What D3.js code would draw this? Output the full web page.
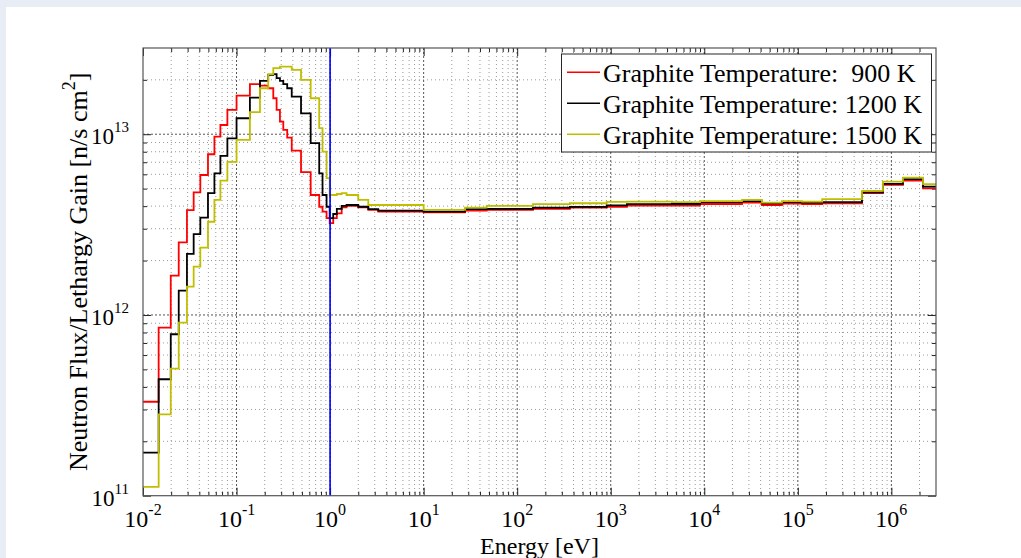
<!DOCTYPE html>
<html lang="en">
<head>
<meta charset="UTF-8" />
<title>Neutron Flux per Lethargy Gain</title>
<script src="https://d3js.org/d3.v7.min.js"></script>
<style>
  body { margin: 0; background: #e8edf5; overflow: hidden; }
  svg { display: block; }
  text { font-family: 'Liberation Serif', 'Times New Roman', serif; fill: #000; }
</style>
</head>
<body>
<div id="chart"></div>
<script>
  // group boundaries [eV], shared by the three runs
  const energyBounds = [
    0.01, 0.0147, 0.0198, 0.0241, 0.0295, 0.0348, 0.041, 0.0495, 0.058, 0.0672,
    0.0798, 0.1, 0.139, 0.178, 0.218, 0.247, 0.268, 0.291, 0.316, 0.348,
    0.389, 0.489, 0.62, 0.765, 0.83, 0.917, 0.99, 1.08, 1.18, 1.33,
    1.5, 2.0, 2.56, 3.27, 10, 27.7, 47.2, 147.5, 366, 906,
    1490, 4520, 9000, 25300, 41400, 67700, 1.11e5, 1.82e5, 4.85e5, 8.13e5,
    1.33e6, 2.18e6, 3e6
  ];

  // flux per lethargy gain in each group [n/s cm^2]
  const flux900 = [
    3.31e11, 8.5e11, 1.65e12, 2.52e12, 3.80e12, 4.77e12, 5.95e12, 7.75e12, 9.70e12, 1.125e13,
    1.363e13, 1.635e13, 1.891e13, 1.858e13, 1.797e13, 1.582e13, 1.363e13, 1.174e13, 1.056e13, 9.57e12,
    8.11e12, 6.17e12, 4.61e12, 3.97e12, 3.73e12, 3.43e12, 3.22e12, 3.43e12, 3.65e12, 3.94e12,
    4.01e12, 3.94e12, 3.81e12, 3.73e12, 3.70e12, 3.78e12, 3.81e12, 3.86e12, 3.93e12, 3.97e12,
    4.03e12, 4.03e12, 4.11e12, 4.18e12, 4.06e12, 4.13e12, 4.11e12, 4.15e12, 4.72e12, 5.24e12,
    5.54e12, 5.02e12
  ];
  const flux1200 = [
    1.73e11, 4.41e11, 7.82e11, 1.363e12, 2.18e12, 2.80e12, 3.46e12, 4.72e12, 6.08e12, 7.59e12,
    9.48e12, 1.226e13, 1.594e13, 1.972e13, 2.128e13, 2.148e13, 2.042e13, 1.972e13, 1.891e13, 1.797e13,
    1.614e13, 1.306e13, 8.92e12, 6.08e12, 4.61e12, 3.97e12, 3.43e12, 3.62e12, 3.86e12, 4.01e12,
    4.06e12, 3.97e12, 3.85e12, 3.78e12, 3.73e12, 3.85e12, 3.86e12, 3.93e12, 3.96e12, 4.04e12,
    4.10e12, 4.11e12, 4.21e12, 4.26e12, 4.15e12, 4.21e12, 4.18e12, 4.21e12, 4.77e12, 5.31e12,
    5.64e12, 5.13e12
  ];
  const flux1500 = [
    1.12e11, 2.82e11, 5.05e11, 9.06e11, 1.434e12, 1.85e12, 2.36e12, 3.28e12, 4.33e12, 5.54e12,
    7.03e12, 9.30e12, 1.324e13, 1.797e13, 2.148e13, 2.319e13, 2.319e13, 2.366e13, 2.366e13, 2.366e13,
    2.269e13, 1.997e13, 1.582e13, 1.08e13, 8.01e12, 5.71e12, 4.61e12, 4.61e12, 4.67e12, 4.72e12,
    4.61e12, 4.33e12, 4.06e12, 4.06e12, 3.81e12, 3.93e12, 4.01e12, 4.10e12, 4.15e12, 4.22e12,
    4.24e12, 4.21e12, 4.27e12, 4.33e12, 4.18e12, 4.27e12, 4.24e12, 4.37e12, 4.86e12, 5.47e12,
    5.75e12, 5.29e12
  ];

  const seriesNames = [
    "Graphite Temperature:  900 K",
    "Graphite Temperature: 1200 K",
    "Graphite Temperature: 1500 K"
  ];
  const seriesColors = ["#ff0000", "#000000", "#bfbf00"];

  const xMajorTicks = [1e-2, 1e-1, 1e0, 1e1, 1e2, 1e3, 1e4, 1e5, 1e6];
  const yMajorTicks = [1e11, 1e12, 1e13];
  const cutoffEnergy = 1; // blue marker line [eV]

  const W = 1021, H = 558;
  const plot = { left: 143, right: 936, top: 48, bottom: 495.7 };

  const x = d3.scaleLog().domain([1e-2, 3e6]).range([plot.left, plot.right]);
  const y = d3.scaleLog().domain([1e11, 3e13]).range([plot.bottom, plot.top]);

  // minor ticks 2..9 in every decade, inside the domain
  function minorTicks(scale) {
    const [a, b] = scale.domain();
    const out = [];
    for (let k = Math.floor(Math.log10(a)); k <= Math.ceil(Math.log10(b)); k++) {
      for (let m = 2; m <= 9; m++) {
        const v = m * Math.pow(10, k);
        if (v > a && v < b) out.push(v);
      }
    }
    return out;
  }
  const xMinor = minorTicks(x);
  const yMinor = minorTicks(y);

  const svg = d3.select("#chart").append("svg")
    .attr("width", W)
    .attr("height", H);

  svg.append("rect")
    .attr("x", 6).attr("y", 7)
    .attr("width", W - 6).attr("height", H - 7)
    .attr("fill", "#fff");

  // grid
  const grid = svg.append("g").attr("fill", "none");
  grid.selectAll(".xminor").data(xMinor).join("line")
    .attr("x1", d => x(d)).attr("x2", d => x(d))
    .attr("y1", plot.top).attr("y2", plot.bottom)
    .attr("stroke", "#999").attr("stroke-dasharray", "1,3");
  grid.selectAll(".yminor").data(yMinor).join("line")
    .attr("y1", d => y(d)).attr("y2", d => y(d))
    .attr("x1", plot.left).attr("x2", plot.right)
    .attr("stroke", "#999").attr("stroke-dasharray", "1,3");
  grid.selectAll(".xmajor").data(xMajorTicks.slice(1)).join("line")
    .attr("x1", d => x(d)).attr("x2", d => x(d))
    .attr("y1", plot.top).attr("y2", plot.bottom)
    .attr("stroke", "#555").attr("stroke-dasharray", "2,2");
  grid.selectAll(".ymajor").data(yMajorTicks.slice(1)).join("line")
    .attr("y1", d => y(d)).attr("y2", d => y(d))
    .attr("x1", plot.left).attr("x2", plot.right)
    .attr("stroke", "#555").attr("stroke-dasharray", "2,2");

  // inward ticks on all four sides
  function tickAxis(axisFn, scale, values, size, translate) {
    const g = svg.append("g")
      .attr("transform", translate)
      .call(axisFn(scale).tickValues(values).tickSize(size).tickFormat(""));
    g.select(".domain").remove();
    g.selectAll(".tick line").attr("stroke", "#222");
  }
  tickAxis(d3.axisBottom, x, xMajorTicks, -8, `translate(0,${plot.bottom})`);
  tickAxis(d3.axisBottom, x, xMinor, -4, `translate(0,${plot.bottom})`);
  tickAxis(d3.axisTop, x, xMajorTicks, -8, `translate(0,${plot.top})`);
  tickAxis(d3.axisTop, x, xMinor, -4, `translate(0,${plot.top})`);
  tickAxis(d3.axisLeft, y, yMajorTicks, -8, `translate(${plot.left},0)`);
  tickAxis(d3.axisLeft, y, yMinor, -4, `translate(${plot.left},0)`);
  tickAxis(d3.axisRight, y, yMajorTicks, -8, `translate(${plot.right},0)`);
  tickAxis(d3.axisRight, y, yMinor, -4, `translate(${plot.right},0)`);

  // curves
  svg.append("clipPath").attr("id", "clip")
    .append("rect")
    .attr("x", plot.left).attr("y", plot.top)
    .attr("width", plot.right - plot.left).attr("height", plot.bottom - plot.top);

  const line = d3.line()
    .x(d => x(d[0]))
    .y(d => y(d[1]))
    .curve(d3.curveStepAfter);

  const allSeries = [flux900, flux1200, flux1500];
  const curves = svg.append("g").attr("clip-path", "url(#clip)");
  allSeries.forEach((vals, i) => {
    const pts = vals.map((v, j) => [energyBounds[j], v]);
    pts.push([energyBounds[energyBounds.length - 1], vals[vals.length - 1]]);
    curves.append("path")
      .datum(pts)
      .attr("fill", "none")
      .attr("stroke", seriesColors[i])
      .attr("stroke-width", 1.8)
      .attr("d", line);
  });

  svg.append("line")
    .attr("x1", x(cutoffEnergy)).attr("x2", x(cutoffEnergy))
    .attr("y1", plot.top).attr("y2", plot.bottom)
    .attr("stroke", "#0000ff").attr("stroke-width", 1.6);

  // frame
  svg.append("rect")
    .attr("x", plot.left).attr("y", plot.top)
    .attr("width", plot.right - plot.left).attr("height", plot.bottom - plot.top)
    .attr("fill", "none").attr("stroke", "#555").attr("stroke-width", 1.2);

  // tick labels 10^n
  const expOf = v => Math.round(Math.log10(v));
  const xLab = svg.append("g").selectAll("text").data(xMajorTicks).join("text")
    .attr("x", d => x(d)).attr("y", 527)
    .attr("text-anchor", "middle")
    .style("font-size", "24px");
  xLab.append("tspan").text("10");
  xLab.append("tspan").attr("dy", -12).style("font-size", "16px").text(d => expOf(d));

  const yLab = svg.append("g").selectAll("text").data(yMajorTicks).join("text")
    .attr("x", 129).attr("y", d => y(d) + 10)
    .attr("text-anchor", "end")
    .style("font-size", "23px");
  yLab.append("tspan").text("10");
  yLab.append("tspan").attr("dy", -12).style("font-size", "15px").text(d => expOf(d));

  // axis titles
  svg.append("text")
    .attr("x", (plot.left + plot.right) / 2).attr("y", 554)
    .attr("text-anchor", "middle")
    .style("font-size", "24px")
    .text("Energy [eV]");

  const yTitle = svg.append("text")
    .attr("transform", `translate(87,${(plot.top + plot.bottom) / 2}) rotate(-90)`)
    .attr("text-anchor", "middle")
    .style("font-size", "26px");
  yTitle.append("tspan").text("Neutron Flux/Lethargy Gain [n/s cm");
  yTitle.append("tspan").attr("dy", -12).style("font-size", "18px").text("2");
  yTitle.append("tspan").attr("dy", 12).text("]");

  // legend
  const legend = svg.append("g");
  legend.append("rect")
    .attr("x", 561.5).attr("y", 54)
    .attr("width", 370).attr("height", 98)
    .attr("fill", "#fff").attr("stroke", "#262626").attr("stroke-width", 1);
  const rows = legend.selectAll("g").data(seriesNames).join("g")
    .attr("transform", (d, i) => `translate(0,${72.3 + i * 31})`);
  rows.append("line")
    .attr("x1", 567).attr("x2", 600)
    .attr("stroke", (d, i) => seriesColors[i]).attr("stroke-width", 1.6);
  rows.append("text")
    .attr("x", 603).attr("y", 10)
    .style("font-size", "26px")
    .style("white-space", "pre")
    .attr("xml:space", "preserve")
    .text(d => d);
</script>
</body>
</html>
